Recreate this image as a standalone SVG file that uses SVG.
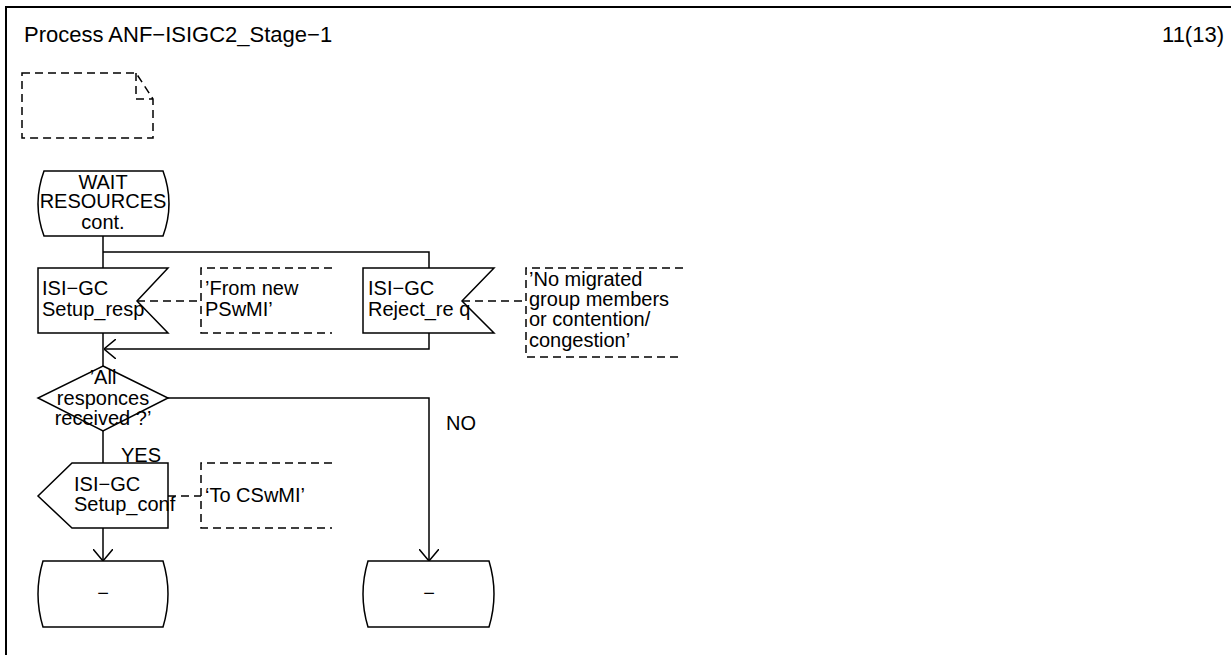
<svg xmlns="http://www.w3.org/2000/svg" width="1231" height="655" viewBox="0 0 1231 655">
<style>
text{font-family:"Liberation Sans",Arial,sans-serif;font-size:20px;fill:#000}
.t{font-size:22px}
.s{fill:#fff;stroke:#000;stroke-width:1.5}
.l{fill:none;stroke:#000;stroke-width:1.5}
.d{fill:none;stroke:#000;stroke-width:1.5;stroke-dasharray:8,5}
.c{text-anchor:middle}
</style>
<defs>
<marker id="a" viewBox="0 0 12 20" refX="12" refY="10" markerWidth="12" markerHeight="20" markerUnits="userSpaceOnUse" orient="auto">
<path d="M0,0 L12,10 L0,20" fill="none" stroke="#000" stroke-width="1.5"/>
</marker>
</defs>
<rect x="6" y="7" width="1240" height="660" fill="#fff" stroke="#000" stroke-width="2"/>
<text class="t" x="24" y="42">Process ANF−ISIGC2_Stage−1</text>
<text class="t" x="1224" y="42" text-anchor="end">11(13)</text>
<g id="note">
<path class="d" d="M22,73 L136,73 L153,99 L153,138 L22,138 Z M136,73 L136,99 L153,99"/>
</g>
<g id="connectors">
<path class="l" d="M103,236 L103,268"/>
<path class="l" d="M103,252 L429,252 L429,268"/>
<path class="l" d="M103,333 L103,366"/>
<path class="l" d="M429,333 L429,349 L104,349" marker-end="url(#a)"/>
<path class="l" d="M168,398 L429,398 L429,561" marker-end="url(#a)"/>
<path class="l" d="M103,431 L103,463"/>
<path class="l" d="M103,528 L103,561" marker-end="url(#a)"/>
<path class="d" d="M137,301 L201,301"/>
<path class="d" d="M462,301 L526,301"/>
<path class="d" d="M168,496 L201,496"/>
<text x="121" y="462">YES</text>
<text x="446" y="430">NO</text>
</g>
<g id="state_wait">
<path class="s" d="M44,171 L163,171 Q175,203.5 163,236 L44,236 Q32,203.5 44,171 Z"/>
<text class="c" x="103" y="189">WAIT</text>
<text class="c" x="103" y="208">RESOURCES</text>
<text class="c" x="103" y="229">cont.</text>
</g>
<g id="input_setup_resp">
<path class="s" d="M38,268 L168,268 L137,301 L168,333 L38,333 Z"/>
<text x="42" y="295">ISI−GC</text>
<text x="42" y="316">Setup_resp</text>
</g>
<g id="comment_from_new">
<path class="d" d="M332,268 L201,268 L201,333 L332,333"/>
<text x="205" y="295">’From new</text>
<text x="205" y="316">PSwMI’</text>
</g>
<g id="input_reject_req">
<path class="s" d="M363,268 L494,268 L462,301 L494,333 L363,333 Z"/>
<text x="368" y="295">ISI−GC</text>
<text x="368" y="316">Reject_re q</text>
</g>
<g id="comment_no_migrated">
<path class="d" d="M683,268 L526,268 L526,357 L683,357"/>
<text x="529" y="286">’No migrated</text>
<text x="529" y="306">group members</text>
<text x="529" y="326">or contention/</text>
<text x="529" y="347">congestion’</text>
</g>
<g id="decision">
<path class="s" d="M103,366 L168,398 L103,431 L38,398 Z"/>
<text class="c" x="103" y="384">’All</text>
<text class="c" x="103" y="405">responces</text>
<text class="c" x="103" y="425">received ?’</text>
</g>
<g id="output_setup_conf">
<path class="s" d="M72,463 L168,463 L168,528 L72,528 L38,496 Z"/>
<text x="74" y="491">ISI−GC</text>
<text x="74" y="511">Setup_conf</text>
</g>
<g id="comment_to_cswmi">
<path class="d" d="M332,463 L201,463 L201,528 L332,528"/>
<text x="205" y="502">‘To CSwMI’</text>
</g>
<g id="end_left">
<path class="s" d="M43,561 L163,561 Q173,594 163,627 L43,627 Q33,594 43,561 Z"/>
<text class="c" x="103" y="600">−</text>
</g>
<g id="end_right">
<path class="s" d="M368,561 L489,561 Q499,594 489,627 L368,627 Q358,594 368,561 Z"/>
<text class="c" x="429" y="600">−</text>
</g>
</svg>
